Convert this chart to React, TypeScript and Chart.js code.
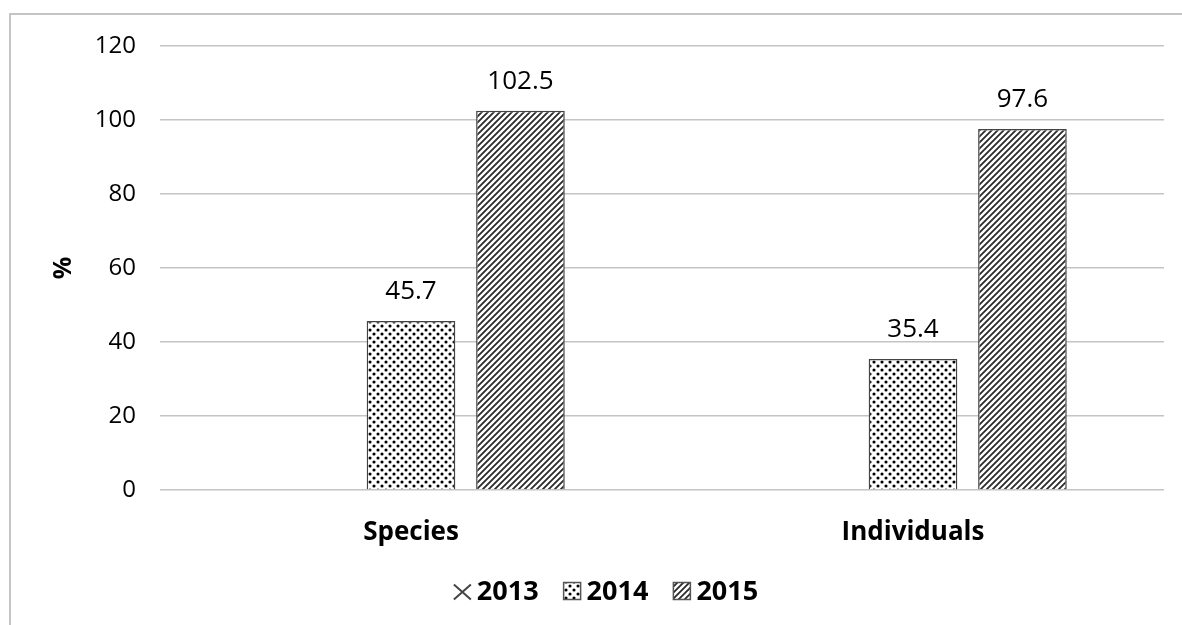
import React, { useEffect, useRef } from "react";
import { Chart, registerables } from "chart.js";
Chart.register(...registerables);

const categories = ["Species", "Individuals"];
const seriesLabels = ["2013", "2014", "2015"];
const values2013: (number | null)[] = [null, null];
const values2014 = [45.7, 35.4];
const values2015 = [102.5, 97.6];
const yMin = 0;
const yMax = 120;
const yStep = 20;
const yTitle = "%";

const FONT = "'Open Sans', 'Noto Sans', sans-serif";

function tile(size: number, draw: (g: CanvasRenderingContext2D) => void) {
  const c = document.createElement("canvas");
  c.width = size;
  c.height = size;
  const g = c.getContext("2d")!;
  g.fillStyle = "#fff";
  g.fillRect(0, 0, size, size);
  draw(g);
  return c;
}

function makePatterns(ctx: CanvasRenderingContext2D) {
  const dots = tile(8, (g) => {
    g.fillStyle = "#000";
    g.beginPath();
    g.arc(2, 2, 1.55, 0, Math.PI * 2);
    g.fill();
    g.beginPath();
    g.arc(6, 6, 1.55, 0, Math.PI * 2);
    g.fill();
  });
  const hatch = tile(6, (g) => {
    g.strokeStyle = "#2a2a2a";
    g.lineWidth = 1.8;
    g.beginPath();
    g.moveTo(0, 6);
    g.lineTo(6, 0);
    g.moveTo(-1, 1);
    g.lineTo(1, -1);
    g.moveTo(5, 7);
    g.lineTo(7, 5);
    g.stroke();
  });
  const cross = tile(12, (g) => {
    g.strokeStyle = "#444";
    g.lineWidth = 1.2;
    g.beginPath();
    g.moveTo(0, 0);
    g.lineTo(12, 12);
    g.moveTo(12, 0);
    g.lineTo(0, 12);
    g.stroke();
  });
  return {
    cross: ctx.createPattern(cross, "repeat")!,
    dots: ctx.createPattern(dots, "repeat")!,
    hatch: ctx.createPattern(hatch, "repeat")!,
  };
}

export default function App() {
  const ref = useRef<HTMLCanvasElement>(null);
  useEffect(() => {
    const canvas = ref.current!;
    const ctx = canvas.getContext("2d")!;
    const pats = makePatterns(ctx);
    const kinds = ["cross", "dots", "hatch"];

    const framePlugin = {
      id: "frame",
      beforeDraw(chart: any) {
        const c = chart.ctx;
        c.save();
        c.fillStyle = "#fff";
        c.fillRect(0, 0, chart.width, chart.height);
        c.strokeStyle = "#c4c4c4";
        c.lineWidth = 2;
        c.strokeRect(10, 14, chart.width + 50, chart.height + 50);
        c.restore();
      },
    };

    const labelPlugin = {
      id: "valueLabels",
      afterDatasetsDraw(chart: any) {
        const c = chart.ctx;
        c.save();
        c.font = `26px ${FONT}`;
        c.fillStyle = "#000";
        c.textAlign = "center";
        c.textBaseline = "middle";
        chart.data.datasets.forEach((ds: any, i: number) => {
          const meta = chart.getDatasetMeta(i);
          meta.data.forEach((el: any, j: number) => {
            const v = ds.data[j];
            if (v === null || v === undefined) return;
            c.fillText(Number(v).toFixed(1), el.x, el.y - 29);
          });
        });
        c.restore();
      },
    };

    const legendPlugin = {
      id: "customLegend",
      afterDraw(chart: any) {
        const c = chart.ctx;
        c.save();
        c.font = `bold 27px ${FONT}`;
        c.textBaseline = "middle";
        const sw = 17;
        const gap = 6;
        const spacing = 25;
        const items = chart.data.datasets.map((ds: any) => ({
          label: ds.label,
          w: sw + gap + c.measureText(ds.label).width,
        }));
        const total =
          items.reduce((a: number, it: any) => a + it.w, 0) +
          spacing * (items.length - 1);
        let x = 606 - total / 2;
        const cy = 591;
        items.forEach((it: any, i: number) => {
          const y0 = cy - sw / 2;
          if (kinds[i] === "cross") {
            c.strokeStyle = "#444";
            c.lineWidth = 2;
            c.beginPath();
            c.moveTo(x, y0 + 2);
            c.lineTo(x + sw, y0 + sw);
            c.moveTo(x + sw, y0 + 2);
            c.lineTo(x, y0 + sw);
            c.stroke();
          } else {
            c.fillStyle = (pats as any)[kinds[i]];
            c.fillRect(x, y0, sw, sw);
            c.strokeStyle = "#555";
            c.lineWidth = 1.5;
            c.strokeRect(x, y0, sw, sw);
          }
          c.fillStyle = "#000";
          c.textAlign = "left";
          c.fillText(it.label, x + sw + gap, cy + 1);
          x += it.w + spacing;
        });
        c.restore();
      },
    };

    const chart = new Chart(canvas, {
      type: "bar",
      data: {
        labels: categories,
        datasets: [
          {
            label: seriesLabels[0],
            data: values2013 as any,
            backgroundColor: pats.cross,
            borderColor: "#444",
            borderWidth: 1.5,
          },
          {
            label: seriesLabels[1],
            data: values2014,
            backgroundColor: pats.dots,
            borderColor: "#444",
            borderWidth: 1.5,
          },
          {
            label: seriesLabels[2],
            data: values2015,
            backgroundColor: pats.hatch,
            borderColor: "#444",
            borderWidth: 1.5,
          },
        ],
      },
      options: {
        responsive: false,
        animation: false,
        layout: { padding: { top: 46, right: 18, left: 0, bottom: 0 } },
        datasets: {
          bar: { categoryPercentage: 0.654, barPercentage: 0.81 },
        },
        plugins: {
          legend: { display: false },
          tooltip: { enabled: false },
        },
        scales: {
          x: {
            grid: { display: false, drawTicks: false },
            border: { display: false },
            ticks: {
              padding: 27,
              color: "#000",
              font: { family: FONT, size: 26, weight: "bold" },
            },
            afterFit(scale: any) {
              scale.height = 135;
            },
          },
          y: {
            min: yMin,
            max: yMax,
            grid: { color: "#c4c4c4", lineWidth: 1.5, drawTicks: false },
            border: { display: false },
            ticks: {
              stepSize: yStep,
              padding: 24,
              color: "#000",
              font: { family: FONT, size: 24 },
            },
            title: {
              display: true,
              text: yTitle,
              color: "#000",
              font: { family: FONT, size: 25, weight: "bold" },
              padding: { top: 49, bottom: 0 },
            },
            afterFit(scale: any) {
              scale.width = 160;
            },
          },
        },
      },
      plugins: [framePlugin, labelPlugin, legendPlugin],
    } as any);
    return () => chart.destroy();
  }, []);

  return (
    <div style={{ position: "fixed", left: 0, top: 0, width: 1182, height: 625, background: "#fff" }}>
      <canvas ref={ref} width={1182} height={625} style={{ display: "block" }} />
    </div>
  );
}
